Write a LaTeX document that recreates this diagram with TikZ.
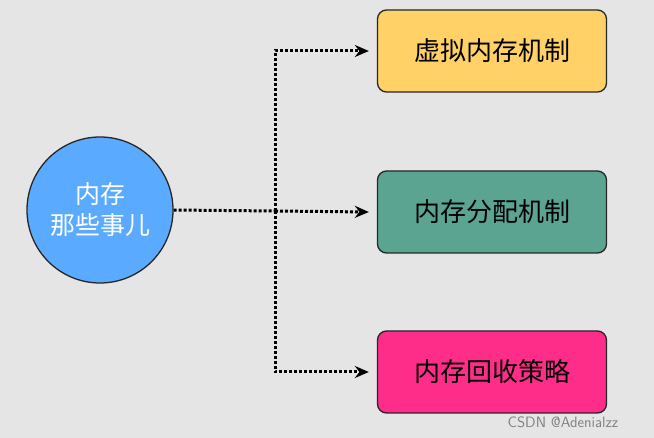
\documentclass[tikz,border=0pt]{standalone}
\usepackage{fontspec}
\newfontfamily\cjk{Noto Sans CJK SC}
\usetikzlibrary{arrows.meta}
\definecolor{bg}{HTML}{E5E5E5}
\definecolor{cblue}{HTML}{5AABFF}
\definecolor{cyel}{HTML}{FFD166}
\definecolor{cteal}{HTML}{5BA492}
\definecolor{cpink}{HTML}{FF2D8A}
\tikzset{
 boxnode/.style={draw=black!85,line width=1.3pt,rounded corners=9pt,minimum width=229pt,minimum height=82pt,font=\cjk\fontsize{26}{30}\selectfont},
 conn/.style={line width=3pt,dotted,-{Stealth[length=14pt,width=12pt]}},
 seg/.style={line width=3pt,dotted}
}
\begin{document}
\begin{tikzpicture}[x=1pt,y=-1pt]
\fill[bg] (0,0) rectangle (654,438);
\useasboundingbox (0,0) rectangle (654,438);
\node[circle,draw=black!85,line width=1.3pt,fill=cblue,minimum size=146pt,text=white,align=center,font=\cjk\fontsize{25}{31}\selectfont] (c) at (100,210) {内存\\那些事儿};
\node[boxnode,fill=cyel] (a) at (492,51) {虚拟内存机制};
\node[boxnode,fill=cteal] (b) at (492,212) {内存分配机制};
\node[boxnode,fill=cpink] (d) at (492,372) {内存回收策略};
\coordinate (j) at (275,211);
\draw[seg] (c.east) -- (j);
\draw[conn] (j) |- ([xshift=-8pt]a.west);
\draw[conn] (j) -- ([xshift=-8pt]b.west);
\draw[conn] (j) |- ([xshift=-8pt]d.west);
\node[text=black!50,font=\fontsize{15}{17}\selectfont\sffamily] (w) at (563,422) {CSDN @Adenialzz};
\end{tikzpicture}
\end{document}
